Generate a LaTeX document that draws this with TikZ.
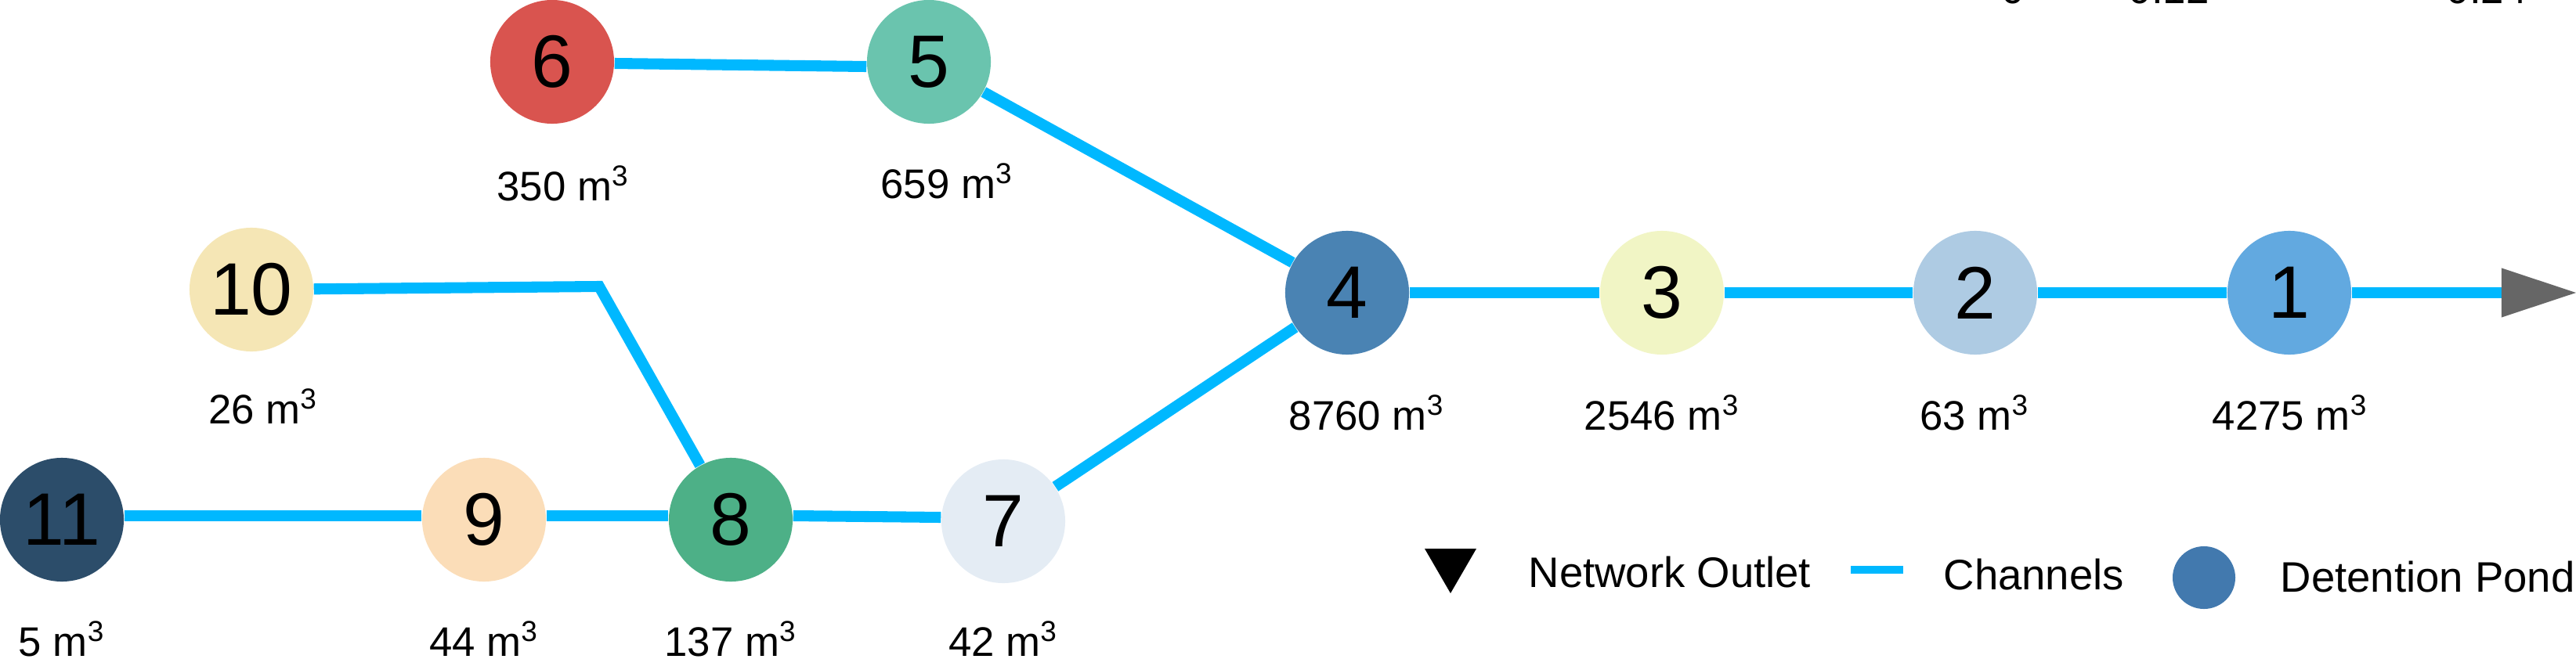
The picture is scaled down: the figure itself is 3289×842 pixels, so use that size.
\documentclass[tikz,border=0pt]{standalone}
\usepackage{fontspec}
\setmainfont{Liberation Sans}
\usepackage{tikz}
\usetikzlibrary{arrows.meta}

\definecolor{pondone}{HTML}{62A9E0}
\definecolor{pondtwo}{HTML}{AECBE3}
\definecolor{pondthree}{HTML}{F1F5C5}
\definecolor{pondfour}{HTML}{4A83B3}
\definecolor{pondfive}{HTML}{6AC4AE}
\definecolor{pondsix}{HTML}{D9544F}
\definecolor{pondseven}{HTML}{E4ECF4}
\definecolor{pondeight}{HTML}{4DB087}
\definecolor{pondnine}{HTML}{FBDDB8}
\definecolor{pondten}{HTML}{F5E6B5}
\definecolor{pondeleven}{HTML}{2C4D6A}
\definecolor{channelblue}{HTML}{00B8FF}
\definecolor{outletgray}{HTML}{666666}
\definecolor{legendblue}{HTML}{4279AE}

\begin{document}
\begin{tikzpicture}[x=0.01cm, y=-0.01cm,
  pond/.style={circle, minimum size=1.58cm, inner sep=0pt, font=\fontsize{27}{27}\selectfont},
  volume/.style={anchor=base, inner sep=0pt, font=\fontsize{15}{15}\selectfont},
  channel/.style={draw=channelblue, line width=4pt},
  keytext/.style={anchor=base west, inner sep=0pt, font=\fontsize{15.5}{15.5}\selectfont}]
  \useasboundingbox (0,0) rectangle (3289,842);

  % Ponds
  \node [pond, fill=pondsix] (n6) at (705,79) {6};
  \node [pond, fill=pondfive] (n5) at (1186,79) {5};
  \node [pond, fill=pondten] (n10) at (321,370) {10};
  \node [pond, fill=pondfour] (n4) at (1720,374) {4};
  \node [pond, fill=pondthree] (n3) at (2122,374) {3};
  \node [pond, fill=pondtwo] (n2) at (2522,374) {2};
  \node [pond, fill=pondone] (n1) at (2923,374) {1};
  \node [pond, fill=pondeleven] (n11) at (79,664) {11};
  \node [pond, fill=pondnine] (n9) at (618,664) {9};
  \node [pond, fill=pondeight] (n8) at (933,664) {8};
  \node [pond, fill=pondseven] (n7) at (1281,666) {7};

  % Volumes
  \node [volume] (v6) at (719,256) {350 m\textsuperscript{3}};
  \node [volume] (v5) at (1209,253) {659 m\textsuperscript{3}};
  \node [volume] (v10) at (336,541) {26 m\textsuperscript{3}};
  \node [volume] (v4) at (1745,549) {8760 m\textsuperscript{3}};
  \node [volume] (v3) at (2122,549) {2546 m\textsuperscript{3}};
  \node [volume] (v2) at (2521,549) {63 m\textsuperscript{3}};
  \node [volume] (v1) at (2924,549) {4275 m\textsuperscript{3}};
  \node [volume] (v11) at (79,838) {5 m\textsuperscript{3}};
  \node [volume] (v9) at (618,838) {44 m\textsuperscript{3}};
  \node [volume] (v8) at (933,838) {137 m\textsuperscript{3}};
  \node [volume] (v7) at (1281,838) {42 m\textsuperscript{3}};

  % Cut-off text at the top
  \node [volume] (cuta) at (2570,4) {0};
  \node [volume] (cutb) at (2769,4) {0.12};
  \node [volume] (cutc) at (3175,4) {0.24};

  % Channels
  \coordinate (bend10) at (765,366);
  \coordinate (outlet) at (3289,374);
  \draw [channel] ([yshift=-0.02cm]n6.east) -- ([yshift=-0.06cm]n5.west);
  \draw [channel] (n5) -- (n4);
  \draw [channel] (n10) -- (bend10) -- (n8);
  \draw [channel] ([yshift=0.05cm]n11.east) -- ([yshift=0.05cm]n9.west);
  \draw [channel] ([yshift=0.05cm]n9.east) -- ([yshift=0.05cm]n8.west);
  \draw [channel] ([yshift=0.05cm]n8.east) -- ([yshift=0.05cm]n7.west);
  \draw [channel] (n7) -- (n4);
  \draw [channel] (n4) -- (n3);
  \draw [channel] (n3) -- (n2);
  \draw [channel] (n2) -- (n1);
  \draw [channel, -{Triangle[length=0.95cm, width=0.63cm, line width=0pt, color=outletgray]}] (n1) -- (outlet);

  % Legend
  \fill [black] (1819,701) -- (1885,701) -- (1852,758) -- cycle;
  \node [keytext] (outletkey) at (1951,750) {Network Outlet};
  \draw [draw=channelblue, line width=2.85pt] (2363,728) -- (2430,728);
  \node [keytext] (channelkey) at (2481,753) {Channels};
  \fill [legendblue] (2814,738) circle [radius=0.4cm];
  \node [keytext] (pondkey) at (2911,756) {Detention Pond};
\end{tikzpicture}
\end{document}
